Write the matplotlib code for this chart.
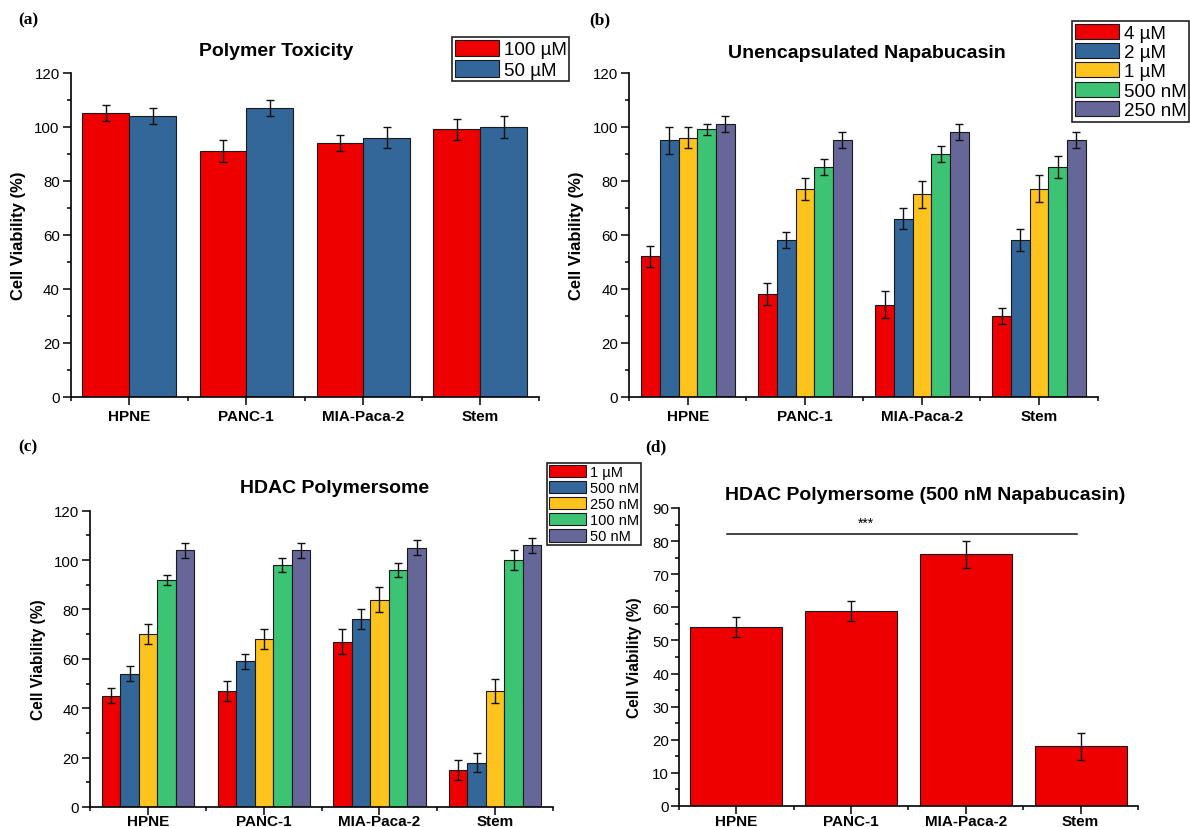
import numpy as np
import matplotlib
matplotlib.use("Agg")
import matplotlib.pyplot as plt
from matplotlib.ticker import MultipleLocator, FixedLocator

plt.rcParams['font.family'] = ['Liberation Sans', 'DejaVu Sans']

# ---------------- data ----------------
cells = ['HPNE', 'PANC-1', 'MIA-Paca-2', 'Stem']

# (a) polymer toxicity
tox_labels = ['100 µM', '50 µM']
tox_100uM = [105, 91, 94, 99]
tox_100uM_err = [3, 4, 3, 4]
tox_50uM = [104, 107, 96, 100]
tox_50uM_err = [3, 3, 4, 4]

# (b) unencapsulated napabucasin
napa_labels = ['4 µM', '2 µM', '1 µM', '500 nM', '250 nM']
napa_4uM = [52, 38, 34, 30]
napa_4uM_err = [4, 4, 5, 3]
napa_2uM = [95, 58, 66, 58]
napa_2uM_err = [5, 3, 4, 4]
napa_1uM = [96, 77, 75, 77]
napa_1uM_err = [4, 4, 5, 5]
napa_500nM = [99, 85, 90, 85]
napa_500nM_err = [2, 3, 3, 4]
napa_250nM = [101, 95, 98, 95]
napa_250nM_err = [3, 3, 3, 3]

# (c) HDAC polymersome
hdac_labels = ['1 µM', '500 nM', '250 nM', '100 nM', '50 nM']
hdac_1uM = [45, 47, 67, 15]
hdac_1uM_err = [3, 4, 5, 4]
hdac_500nM = [54, 59, 76, 18]
hdac_500nM_err = [3, 3, 4, 4]
hdac_250nM = [70, 68, 84, 47]
hdac_250nM_err = [4, 4, 5, 5]
hdac_100nM = [92, 98, 96, 100]
hdac_100nM_err = [2, 3, 3, 4]
hdac_50nM = [104, 104, 105, 106]
hdac_50nM_err = [3, 3, 3, 3]

# (d) HDAC polymersome at 500 nM napabucasin
poly500 = [54, 59, 76, 18]
poly500_err = [3, 3, 4, 4]
sig_label = '***'
sig_level = 82

palette = ['#EE0000', '#336699', '#FFC31E', '#3CC373', '#666699']

W, H = 1190, 828
fig = plt.figure(figsize=(W / 100, H / 100), dpi=100)


def px_axes(left, top, right, bottom):
    return fig.add_axes([left / W, 1 - bottom / H, (right - left) / W, (bottom - top) / H])


def fig_xy(x, y):
    return x / W, 1 - y / H


def style_axes(ax, ymax, major, minor, ypad=2.5, xpad=3.5):
    ax.set_xlim(-0.5, 3.5)
    ax.set_ylim(0, ymax)
    for s in ('top', 'right'):
        ax.spines[s].set_visible(False)
    for s in ('left', 'bottom'):
        ax.spines[s].set_linewidth(1.2)
    ax.set_xticks(range(len(cells)))
    ax.set_xticklabels(cells, fontsize=11, fontweight='bold')
    ax.xaxis.set_minor_locator(FixedLocator([-0.5, 0.5, 1.5, 2.5, 3.5]))
    ax.yaxis.set_major_locator(MultipleLocator(major))
    ax.yaxis.set_minor_locator(MultipleLocator(minor))
    ax.tick_params(axis='both', which='major', direction='out', length=5.5, width=1.1)
    ax.tick_params(axis='both', which='minor', direction='out', length=3, width=1.1)
    ax.tick_params(axis='y', which='major', labelsize=10.8, pad=ypad)
    ax.tick_params(axis='x', which='major', pad=xpad)


def grouped(ax, series, errs, labels, width):
    n = len(series)
    x = np.arange(len(cells))
    for i, (vals, err, lab) in enumerate(zip(series, errs, labels)):
        pos = x + (i - (n - 1) / 2) * width
        ax.bar(pos, vals, width=width, color=palette[i], edgecolor='#1a1a1a',
               linewidth=0.8, label=lab, zorder=2)
        ax.errorbar(pos, vals, yerr=err, fmt='none', ecolor='#111111',
                    elinewidth=1, capsize=3, capthick=1, zorder=3)


def add_legend(ax, x, y, fs, hl, hh, spacing, pad=0.12):
    leg = ax.legend(loc='upper left', bbox_to_anchor=fig_xy(x, y),
                    bbox_transform=fig.transFigure, fontsize=fs,
                    handlelength=hl, handleheight=hh, handletextpad=0.3,
                    labelspacing=spacing, borderpad=pad, borderaxespad=0,
                    fancybox=False, framealpha=1)
    leg.get_frame().set_edgecolor('#222222')
    leg.get_frame().set_linewidth(1.2)
    return leg


def ylabel(x, y, fs):
    fig.text(*fig_xy(x, y), 'Cell Viability (%)', rotation=90, ha='center',
             va='center', fontsize=fs, fontweight='bold')


def panel_tag(x, y, tag):
    fig.text(*fig_xy(x, y), tag, ha='center', va='center', fontsize=12.5,
             fontweight='bold', family=['Liberation Serif', 'DejaVu Serif'])


def title(x, y, s):
    fig.text(*fig_xy(x, y), s, ha='center', va='center', fontsize=14,
             fontweight='bold')


# (a)
ax_a = px_axes(70.8, 73.7, 538.8, 397.7)
grouped(ax_a, [tox_100uM, tox_50uM], [tox_100uM_err, tox_50uM_err], tox_labels, 0.4)
style_axes(ax_a, 120, 20, 10)
add_legend(ax_a, 452.3, 38.3, 13.5, 2.35, 1.0, 0.1)
title(276, 51, 'Polymer Toxicity')
ylabel(18.5, 236, 12)
panel_tag(28, 20, '(a)')

# (b)
ax_b = px_axes(629.4, 73.7, 1097.5, 397.7)
grouped(ax_b,
        [napa_4uM, napa_2uM, napa_1uM, napa_500nM, napa_250nM],
        [napa_4uM_err, napa_2uM_err, napa_1uM_err, napa_500nM_err, napa_250nM_err],
        napa_labels, 0.16)
style_axes(ax_b, 120, 20, 10)
add_legend(ax_b, 1072.3, 22.3, 13.5, 2.35, 0.85, 0.08)
title(867, 53, 'Unencapsulated Napabucasin')
ylabel(576, 236, 12)
panel_tag(600, 20, '(b)')

# (c)
ax_c = px_axes(90.3, 511.7, 553, 808.0)
grouped(ax_c,
        [hdac_1uM, hdac_500nM, hdac_250nM, hdac_100nM, hdac_50nM],
        [hdac_1uM_err, hdac_500nM_err, hdac_250nM_err, hdac_100nM_err, hdac_50nM_err],
        hdac_labels, 0.16)
style_axes(ax_c, 120, 20, 10, xpad=-0.5)
add_legend(ax_c, 547.3, 464, 10.5, 2.5, 0.95, 0.12)
title(335, 489, 'HDAC Polymersome')
ylabel(38.5, 660, 11.2)
panel_tag(28, 447, '(c)')

# (d)
ax_d = px_axes(678.8, 509, 1138, 807)
x = np.arange(len(cells))
ax_d.bar(x, poly500, width=0.8, color=palette[0], edgecolor='#1a1a1a',
         linewidth=0.8, zorder=2)
ax_d.errorbar(x, poly500, yerr=poly500_err, fmt='none', ecolor='#111111',
              elinewidth=1, capsize=3, capthick=1, zorder=3)
style_axes(ax_d, 90, 10, 5, ypad=1.5, xpad=0.5)
ax_d.plot([-0.08, 2.97], [sig_level, sig_level], color='#111111', lw=1.1,
          clip_on=False)
ax_d.text(1.13, 85.5, sig_label, ha='center', va='center', fontsize=10)
title(925.6, 496, 'HDAC Polymersome (500 nM Napabucasin)')
ylabel(634, 658, 11.2)
panel_tag(656, 447, '(d)')

fig.savefig('out.png', dpi=100)
